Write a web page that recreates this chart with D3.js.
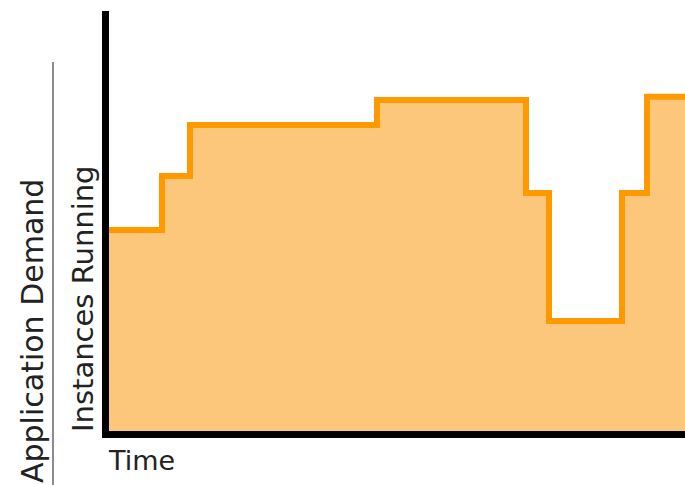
<!DOCTYPE html>
<html>
<head>
    <script src="https://d3js.org/d3.v7.min.js"></script>
    <style>
        body { margin: 0; background: #fff; }
        text { font-family: "DejaVu Sans", Verdana, sans-serif; fill: #222; }
    </style>
</head>
<body>
    <script>
        // step changes in time units and instance level (0-100)
        const times = [0, 57, 85, 272, 421, 444, 517, 542, 580];
        const levels = [48.6, 61.4, 73.6, 79.5, 57.4, 26.9, 57.4, 80.3, 80.3];
        const labels = { x: 'Time', y: 'Instances Running', outer: 'Application Demand' };

        const msm = { width: 685, height: 485, left: 105, bottom: 434, top: 14 };

        let svg = d3.select('body')
            .append('svg')
            .attr('width', msm.width)
            .attr('height', msm.height);

        let x = d3.scaleLinear().domain([0, 580]).range([msm.left, msm.width]);
        let y = d3.scaleLinear().domain([0, 100]).range([msm.bottom, msm.top]);

        let data = times.map((t, i) => ({ t: t, v: levels[i] }));

        let area = d3.area()
            .x(d => x(d.t))
            .y0(y(0))
            .y1(d => y(d.v))
            .curve(d3.curveStepAfter);

        let line = d3.line()
            .x(d => x(d.t))
            .y(d => y(d.v))
            .curve(d3.curveStepAfter);

        svg.append('path')
            .attr('d', area(data))
            .attr('fill', '#fdc77b');

        svg.append('path')
            .attr('d', line(data))
            .attr('fill', 'none')
            .attr('stroke', '#ff9900')
            .attr('stroke-width', 6);

        // axes: thick black lines, no ticks
        svg.append('g')
            .attr('transform', `translate(${msm.left},0)`)
            .call(d3.axisLeft(y).ticks(0).tickSizeOuter(0));
        svg.append('g')
            .attr('transform', `translate(0,${msm.bottom})`)
            .call(d3.axisBottom(x).ticks(0).tickSizeOuter(0));
        svg.selectAll('.domain')
            .attr('stroke', '#000')
            .attr('stroke-width', 7)
            .attr('stroke-linecap', 'square');

        svg.append('text')
            .attr('x', 109)
            .attr('y', 470)
            .attr('font-size', 27)
            .text(labels.x);

        svg.append('text')
            .attr('transform', 'translate(93,432) rotate(-90)')
            .attr('font-size', 29)
            .text(labels.y);

        svg.append('text')
            .attr('transform', 'translate(43,483) rotate(-90)')
            .attr('font-size', 30)
            .text(labels.outer);

        svg.append('line')
            .attr('x1', 53).attr('x2', 53)
            .attr('y1', 62).attr('y2', 485)
            .attr('stroke', '#666')
            .attr('stroke-width', 1.5);
    </script>
</body>
</html>
